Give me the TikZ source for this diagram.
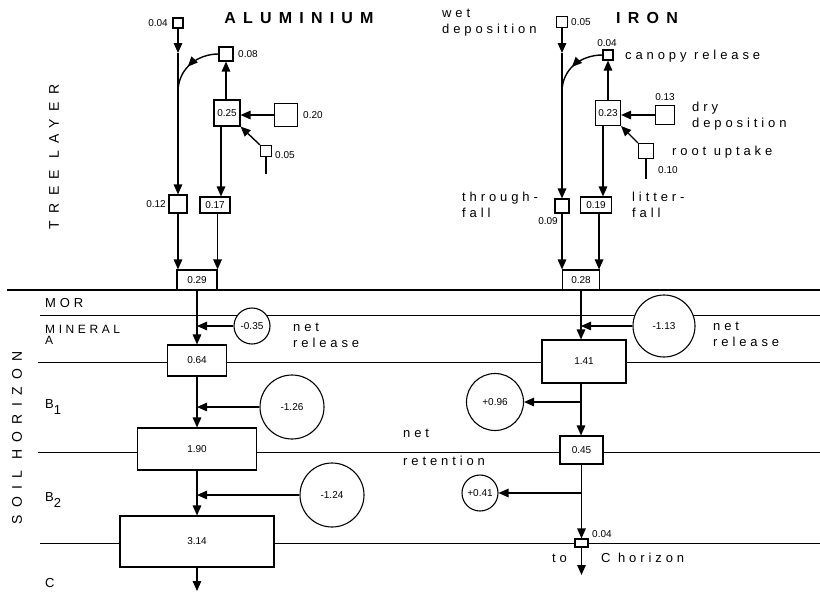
\documentclass[tikz,border=0pt]{standalone}
\usepackage{fontspec}
\setmainfont{Liberation Sans}
\newfontfamily\lsp[LetterSpace=30]{Liberation Sans}
\newfontfamily\tsp[LetterSpace=45]{Liberation Sans}
\newfontfamily\vsp[LetterSpace=52]{Liberation Sans}
\usetikzlibrary{arrows.meta,decorations.markings}
\tikzset{
 bx/.style={draw, fill=white, line width=1.1pt, inner sep=0pt, font=\fontsize{10}{12}\selectfont},
 cr/.style={draw, circle, fill=white, line width=1.1pt, inner sep=0pt, font=\fontsize{10}{12}\selectfont},
 ar/.style={line width=1.4pt, -{Triangle[length=10pt,width=8.5pt]}},
 ln/.style={line width=1.4pt},
 hl/.style={line width=0.9pt},
 num/.style={inner sep=0pt, font=\fontsize{10}{12}\selectfont},
 lab/.style={inner sep=0pt, anchor=west, align=left, font=\lsp\fontsize{13}{16}\selectfont},
 ttl/.style={inner sep=0pt, font=\tsp\bfseries\fontsize{16}{18}\selectfont},
 vlab/.style={inner sep=0pt, rotate=90, font=\vsp\fontsize{14}{16}\selectfont},
 midar/.style={postaction={decorate}, decoration={markings, mark=at position #1 with {\arrow{Triangle[length=10pt,width=8.5pt]}}}},
}
\begin{document}
\begin{tikzpicture}[x=1pt,y=-1pt]
\useasboundingbox (0,0) rectangle (820,592);
% horizon lines
\draw[line width=1.8pt] (7,290) -- (820,290);
\draw[hl] (40,315) -- (820,315);
\draw[hl] (38,362) -- (820,362);
\draw[hl] (38,452) -- (820,452);
\draw[hl] (40,543) -- (820,543);

% ---------- ALUMINIUM ----------
\node[bx, minimum size=10pt] (a004) at (178,23) {};
\node[bx, minimum size=14pt] (a008) at (226,54) {};
\node[bx, minimum width=26pt, minimum height=26pt] (a025) at (227,113) {0.25};
\node[bx, minimum size=23pt] (a020) at (286,115) {};
\node[bx, minimum size=11pt] (a005) at (266,151) {};
\node[bx, minimum size=18pt] (a012) at (178,204) {};
\node[bx, minimum width=30pt, minimum height=16pt] (a017) at (215,205) {0.17};
\node[bx, minimum width=40pt, minimum height=20pt] (a029) at (197,280) {0.29};
\node[bx, minimum width=59pt, minimum height=31pt] (a064) at (197,360.5) {0.64};
\node[bx, minimum width=119pt, minimum height=42pt] (a190) at (197,449) {1.90};
\node[bx, minimum width=154pt, minimum height=51pt] (a314) at (197,541.5) {3.14};
\node[cr, minimum size=36pt] (c035) at (252,326) {-0.35};
\node[cr, minimum size=64pt] (c126) at (292,407) {-1.26};
\node[cr, minimum size=64pt] (c124) at (332,495) {-1.24};

\node[num, anchor=east] (la004) at (168,23) {0.04};
\node[num, anchor=west] (la008) at (238,54) {0.08};
\node[num, anchor=west] (la020) at (303,115) {0.20};
\node[num, anchor=west] (la005) at (275,155) {0.05};
\node[num, anchor=east] (la012) at (166,204) {0.12};

\coordinate (am1) at (178,53);
\coordinate (aj) at (178,92);
\coordinate (aend) at (197,591);
\draw[ar] (a004.south) -- (am1);
\draw[ar] (am1) -- (a012.north);
\draw[ln, midar=0.55] (a008.west) .. controls (198,54) and (178,68) .. (aj);
\draw[ar] (a008.south |- a025.north) -- (a008.south);
\draw[ar] (a020.west) -- (a020.west -| a025.east);
\draw[ar] (a005.north west) -- (a025.south east);
\draw[ln] (a005.south) -- ++(0,17);
\draw[ar] ([xshift=-6pt]a025.south) -- ([xshift=6pt]a017.north);
\draw[ar] (a012.south) -- (a012.south |- a029.north);
\draw[ar] (a029.north east |- a017.south) -- (a029.north east);
\draw[ar] (a029.south) -- (a064.north);
\draw[ar] (c035.west) -- (c035.west -| a029.south);
\draw[ar] (a064.south) -- (a190.north);
\draw[ar] (c126.west) -- (c126.west -| a064.south);
\draw[ar] (a190.south) -- (a314.north);
\draw[ar] (c124.west) -- (c124.west -| a190.south);
\draw[ar] (a314.south) -- (aend);

% ---------- IRON ----------
\node[bx, minimum size=11pt] (i005) at (562,22) {};
\node[bx, minimum size=10pt] (i004) at (608,55) {};
\node[bx, minimum size=25pt] (i023) at (608,113) {0.23};
\node[bx, minimum size=19pt] (i013) at (665,115) {};
\node[bx, minimum size=15pt] (iru) at (646,151) {};
\node[bx, minimum size=14pt] (i009) at (562,206) {};
\node[bx, minimum width=31pt, minimum height=16pt] (i019) at (596,205) {0.19};
\node[bx, minimum width=37pt, minimum height=20pt] (i028) at (581,280) {0.28};
\node[bx, minimum width=84pt, minimum height=43pt] (i141) at (584,361.5) {1.41};
\node[bx, minimum width=43pt, minimum height=28pt] (i045) at (581.5,450) {0.45};
\node[bx, minimum width=13pt, minimum height=8pt] (i004b) at (581.5,543) {};
\node[cr, minimum size=62pt] (c113) at (664,326) {-1.13};
\node[cr, minimum size=57pt] (c096) at (495,402) {+0.96};
\node[cr, minimum size=36pt] (c041) at (480,493) {+0.41};

\node[num, anchor=west] (li005) at (571,22) {0.05};
\node[num] (li004) at (607,43) {0.04};
\node[num] (li013) at (665,97) {0.13};
\node[num, anchor=west] (li010) at (658,170) {0.10};
\node[num] (li009) at (548,221) {0.09};
\node[num, anchor=west] (li004b) at (592,534) {0.04};

\coordinate (im1) at (562,53);
\coordinate (ij) at (562,92);
\coordinate (iend) at (581.5,575);
\draw[ar] (i005.south) -- (im1);
\draw[ar] (im1) -- (i009.north);
\draw[ln, midar=0.55] (i004.west) .. controls (582,55) and (562,68) .. (ij);
\draw[ar] (i023.north) -- (i004.south);
\draw[ar] (i013.west) -- (i013.west -| i023.east);
\draw[ar] (iru.north west) -- (i023.south east);
\draw[ln] (iru.south) -- ++(0,20);
\draw[ar] ([xshift=-5pt]i023.south) -- ([xshift=7pt]i019.north);
\draw[ar] (i009.south) -- (i009.south |- i028.north);
\draw[ar] ([xshift=-1pt]i028.north east |- i019.south) -- ([xshift=-1pt]i028.north east);
\draw[ar] (i028.south) -- (i028.south |- i141.north);
\draw[ar] (c113.west) -- (c113.west -| i028.south);
\draw[ar] (i028.south |- i141.south) -- (i028.south |- i045.north);
\draw[ar] (c096.east -| i028.south) -- (c096.east);
\draw[ar] (i045.south) -- (i004b.north);
\draw[ar] (c041.east -| i045.south) -- (c041.east);
\draw[ar] (i004b.south) -- (iend);

% ---------- texts ----------
\node[ttl] (tal) at (299,18) {ALUMINIUM};
\node[ttl] (tir) at (647,18) {IRON};
\node[lab] (twet) at (442,23) {wet\\deposition};
\node[lab] (tcan) at (625,56) {canopy release};
\node[lab] (tdry) at (692,116) {dry\\deposition};
\node[lab] (troot) at (672,152) {root uptake};
\node[lab] (tthr) at (462,205) {through-\\fall};
\node[lab] (tlit) at (632,205) {litter-\\fall};
\node[lab] (tnr1) at (293,335) {net\\release};
\node[lab] (tnr2) at (713,334) {net\\release};
\node[lab] (tnet) at (403,433) {net};
\node[lab] (tret) at (403,461) {retention};
\node[lab] (tto) at (552,558) {to};
\node[lab] (tch) at (601,558) {C horizon};
\node[lab] (tmor) at (45,303) {MOR};
\node[lab, font=\lsp\fontsize{12}{11}\selectfont] (tmin) at (45,335) {MINERAL\\A};
\node[lab] (tb1) at (45,407) {B\raisebox{-6pt}{1}};
\node[lab] (tb2) at (45,500) {B\raisebox{-6pt}{2}};
\node[lab] (tc) at (45,583) {C};
\node[vlab] (ttree) at (54,157) {TREE LAYER};
\node[vlab] (tsoil) at (17,438) {SOIL HORIZON};
\end{tikzpicture}
\end{document}
